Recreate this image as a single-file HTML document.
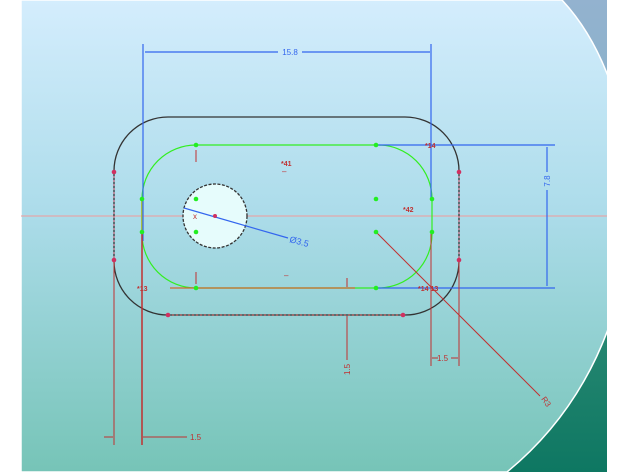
<!DOCTYPE html>
<html><head><meta charset="utf-8"><style>
html,body{margin:0;padding:0;background:#fff;}
svg{display:block;}
text{font-family:"Liberation Sans",sans-serif;}
</style></head><body>
<svg width="628" height="472" viewBox="0 0 628 472" xmlns="http://www.w3.org/2000/svg">
<defs>
<linearGradient id="bg" x1="0" y1="0" x2="0" y2="1">
<stop offset="0" stop-color="#d4edfd"/><stop offset="0.45" stop-color="#acdcea"/><stop offset="1" stop-color="#76c4b7"/>
</linearGradient>
<linearGradient id="rg" x1="0" y1="0" x2="0" y2="1">
<stop offset="0" stop-color="#93b2cf"/><stop offset="0.5" stop-color="#7fb3c4"/><stop offset="0.65" stop-color="#2a8a74"/><stop offset="1" stop-color="#0e7762"/>
</linearGradient>
<clipPath id="c"><rect x="21" y="0" width="586" height="472"/></clipPath>
</defs>
<rect width="628" height="472" fill="#fff"/>
<g clip-path="url(#c)">
<rect x="21" y="0" width="586" height="472" fill="url(#rg)"/>
<path d="M562,0 C655,100 668,340 507,472 L21,472 L21,0 Z" fill="url(#bg)" stroke="#fff" stroke-width="1.5"/>
<line x1="21" y1="216" x2="607" y2="216" stroke="#f09a9a" stroke-width="1"/>
</g>
<rect x="114" y="117" width="345" height="198" rx="54" ry="54" fill="none" stroke="#333" stroke-width="1.3"/>
<line x1="114" y1="172" x2="114" y2="260" stroke="#e07090" stroke-width="1" stroke-dasharray="2,2"/>
<line x1="459" y1="172" x2="459" y2="260" stroke="#e07090" stroke-width="1" stroke-dasharray="2,2"/>
<rect x="142" y="145" width="290" height="143" rx="54" ry="54" fill="none" stroke="#33ee22" stroke-width="1.2"/>
<line x1="142" y1="199" x2="142" y2="232" stroke="#a8c040" stroke-width="2"/>
<circle cx="215" cy="216" r="32" fill="#e6fcfc" stroke="#333" stroke-width="1.3" stroke-dasharray="3,1.5"/>
<g stroke="#3366ee" stroke-width="1.2" fill="none">
<line x1="143" y1="44" x2="143" y2="241"/>
<line x1="431" y1="44" x2="431" y2="199"/>
<line x1="145" y1="52" x2="278" y2="52"/><line x1="302" y1="52" x2="430" y2="52"/>
<line x1="376" y1="145" x2="555" y2="145"/>
<line x1="376" y1="288" x2="555" y2="288"/>
<line x1="547" y1="147" x2="547" y2="172"/><line x1="547" y1="190" x2="547" y2="286"/>
<line x1="184" y1="208" x2="288" y2="238"/>
</g>
<text x="290" y="55" font-size="8" fill="#3366ee" text-anchor="middle">15.8</text>
<text x="0" y="0" font-size="8" fill="#3366ee" text-anchor="middle" transform="translate(550,181) rotate(-90)">7.8</text>
<text x="0" y="0" font-size="9" fill="#3366ee" transform="translate(289,242) rotate(15)">Ø3.5</text>
<g stroke="#c03030" stroke-width="1" fill="none">
<line x1="114" y1="260" x2="114" y2="445"/>
<line x1="142" y1="232" x2="142" y2="445" stroke-width="1.5"/>
<line x1="104" y1="437" x2="113" y2="437"/>
<line x1="143" y1="437" x2="187" y2="437"/>
<line x1="431" y1="232" x2="431" y2="366"/>
<line x1="459" y1="260" x2="459" y2="366"/>
<line x1="432" y1="358" x2="438" y2="358"/><line x1="451" y1="358" x2="458" y2="358"/>
<line x1="347" y1="316" x2="347" y2="360"/>
<line x1="347" y1="278" x2="347" y2="287"/>
<line x1="376" y1="232" x2="540" y2="396"/>
<line x1="170" y1="288" x2="355" y2="288" stroke="#d06a30" stroke-width="1.3"/>
<line x1="168" y1="315" x2="403" y2="315" stroke-dasharray="2,2"/>
<line x1="196" y1="150" x2="196" y2="162"/><line x1="196" y1="272" x2="196" y2="284"/>
</g>
<text x="190" y="440" font-size="8" fill="#c03030">1.5</text>
<text x="437" y="361" font-size="8" fill="#c03030">1.5</text>
<text x="0" y="0" font-size="8" fill="#c03030" transform="translate(350,375) rotate(-90)">1.5</text>
<text x="0" y="0" font-size="8" fill="#c03030" transform="translate(541,399) rotate(55)">R3</text>
<g font-size="7" fill="#c03030" font-weight="bold">
<text x="281" y="166">*41</text>
<text x="403" y="212">*42</text>
<text x="425" y="148">*14</text>
<text x="137" y="291">*13</text>
<text x="418" y="291">*14 13</text>
</g>
<g fill="#c03030" font-size="8"><text x="282" y="174">–</text><text x="284" y="278">–</text><text x="193" y="219">x</text></g>
<g fill="#22ee22">
<circle cx="196" cy="145" r="2.3"/><circle cx="376" cy="145" r="2.3"/>
<circle cx="142" cy="199" r="2.3"/><circle cx="432" cy="199" r="2.3"/>
<circle cx="142" cy="232" r="2.3"/><circle cx="432" cy="232" r="2.3"/>
<circle cx="196" cy="199" r="2.3"/><circle cx="196" cy="232" r="2.3"/>
<circle cx="376" cy="199" r="2.3"/><circle cx="376" cy="232" r="2.3"/>
<circle cx="196" cy="288" r="2.3"/><circle cx="376" cy="288" r="2.3"/>
</g>
<g fill="#d03060">
<circle cx="114" cy="172" r="2.3"/><circle cx="459" cy="172" r="2.3"/>
<circle cx="114" cy="260" r="2.3"/><circle cx="459" cy="260" r="2.3"/>
<circle cx="168" cy="315" r="2.3"/><circle cx="403" cy="315" r="2.3"/>
<circle cx="215" cy="216" r="2"/>
</g>
</svg>
</body></html>
